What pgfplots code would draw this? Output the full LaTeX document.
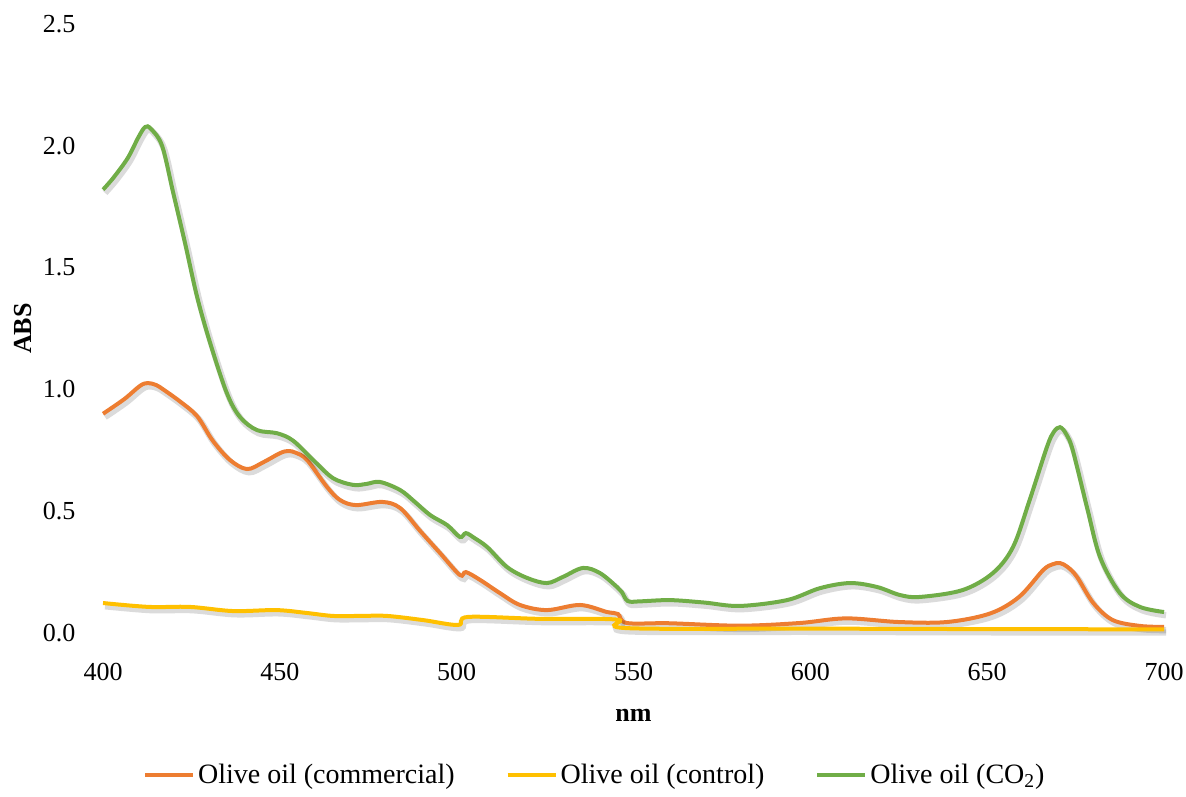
\documentclass[border=0pt]{standalone}
\usepackage{pgfplots}
\pgfplotsset{compat=1.18}
\usepackage{pgfplotstable}
\usepackage{fontspec}
\setmainfont{Liberation Serif}

\definecolor{olvOrange}{HTML}{ED7D31}
\definecolor{olvYellow}{HTML}{FFC000}
\definecolor{olvGreen}{HTML}{70AD47}

% Absorbance spectra (nm, ABS)
\pgfplotstableread{
nm abs
400 0.90
406 0.96
410.5 1.015
412.7 1.026
415 1.018
417 1.00
421.8 0.95
426.6 0.89
431 0.79
435.9 0.71
440.7 0.673
445.2 0.70
450 0.738
452.3 0.747
454.5 0.74
457.7 0.71
463.3 0.60
467 0.546
471.5 0.525
479 0.538
484 0.513
489.6 0.42
495.3 0.328
500.9 0.238
502.6 0.25
506.6 0.218
512.2 0.164
517.9 0.115
525.5 0.094
534.9 0.115
542.5 0.086
545.6 0.078
548.1 0.041
560 0.04
580 0.03
597 0.041
610 0.06
625 0.045
638.6 0.045
650.8 0.08
659 0.148
665.8 0.258
668.5 0.282
670.6 0.287
672.8 0.27
675.4 0.23
680 0.123
685.5 0.053
693.2 0.029
700 0.025
}\commercial

\pgfplotstableread{
nm abs
400 0.123
413 0.107
424.6 0.107
436.8 0.09
449 0.094
457.7 0.082
465 0.07
472.7 0.07
480.3 0.07
490.5 0.053
500.4 0.033
503.2 0.066
523.5 0.058
545.3 0.055
548.1 0.02
600 0.018
650 0.016
700 0.015
}\control

\pgfplotstableread{
nm abs
400 1.82
403 1.87
407 1.95
410 2.035
411.9 2.077
413.5 2.07
416.7 2.00
419.8 1.81
423.2 1.60
426.6 1.38
430.3 1.19
435 0.985
438.7 0.887
443.5 0.833
449.2 0.82
453.7 0.79
459.4 0.71
465 0.636
470.7 0.608
474.5 0.612
478.3 0.62
484 0.587
488 0.54
492.5 0.484
497.3 0.443
500.9 0.394
502.6 0.41
505 0.39
508.6 0.353
514.2 0.271
519.9 0.226
525.5 0.205
530 0.23
535.7 0.267
540.5 0.246
545.3 0.189
546.7 0.168
548.4 0.131
552 0.13
560.3 0.135
570 0.125
580 0.111
593.4 0.135
602.7 0.184
611.2 0.205
618.8 0.189
625.3 0.156
631 0.148
643 0.176
651.6 0.246
657.3 0.353
662 0.546
666.9 0.764
668.8 0.825
670.6 0.845
672.4 0.815
674.2 0.75
678.2 0.517
681.9 0.312
687.5 0.164
693.2 0.107
700 0.086
}\cotwo

\begin{document}
\begin{tikzpicture}
\begin{axis}[
  scale only axis,
  width=530.5pt, height=304.5pt,
  xmin=400, xmax=700, ymin=0, ymax=2.5,
  xtick={400,450,...,700},
  ytick={0,0.5,...,2.5},
  axis line style={draw=none},
  major tick length=0pt,
  tick label style={font=\fontsize{13}{15}\selectfont},
  /pgf/number format/assume math mode=true,
  xticklabel style={anchor=center, yshift=-19.5pt},
  yticklabel style={anchor=center, xshift=-22pt,
    /pgf/number format/.cd, fixed, fixed zerofill, precision=1},
  xlabel={nm},
  ylabel={ABS},
  every axis x label/.style={at={(axis description cs:0.5,-0.1346)}, anchor=center,
    font=\fontsize{13}{15}\selectfont\bfseries},
  every axis y label/.style={at={(axis description cs:-0.0754,0.5)}, rotate=90, anchor=center,
    font=\fontsize{13}{15}\selectfont\bfseries},
  clip=false,
  legend columns=3,
  legend style={draw=none, fill=none, at={(axis description cs:0.464,-0.233)}, anchor=center,
    font=\fontsize{14}{16}\selectfont, inner sep=0pt,
    /tikz/every even column/.append style={column sep=24pt},
    nodes={inner sep=1.5pt}},
  legend image code/.code={\draw[#1, line width=2pt] (0pt,0pt) -- (24pt,0pt);},
  every axis plot/.append style={line width=2pt, smooth, tension=0.55},
]
% soft drop shadows under each curve
\addplot[forget plot, black, opacity=0.14, line width=3.2pt,
  transform canvas={xshift=1pt, yshift=-1.6pt}] table[x=nm, y=abs] {\commercial};
\addplot[olvOrange] table[x=nm, y=abs] {\commercial};
\addlegendentry{Olive oil (commercial)}
\addplot[forget plot, black, opacity=0.14, line width=3.2pt,
  transform canvas={xshift=1pt, yshift=-1.6pt}] table[x=nm, y=abs] {\control};
\addplot[olvYellow] table[x=nm, y=abs] {\control};
\addlegendentry{Olive oil (control)}
\addplot[forget plot, black, opacity=0.14, line width=3.2pt,
  transform canvas={xshift=1pt, yshift=-1.6pt}] table[x=nm, y=abs] {\cotwo};
\addplot[olvGreen] table[x=nm, y=abs] {\cotwo};
\addlegendentry{Olive oil (CO\textsubscript{2})}
\coordinate (bbBL) at (rel axis cs:-0.0971,-0.2677);
\coordinate (bbTR) at (rel axis cs:1.0207,1.0394);
\end{axis}
\pgfresetboundingbox
\path[use as bounding box] (bbBL) rectangle (bbTR);
\end{tikzpicture}
\end{document}
